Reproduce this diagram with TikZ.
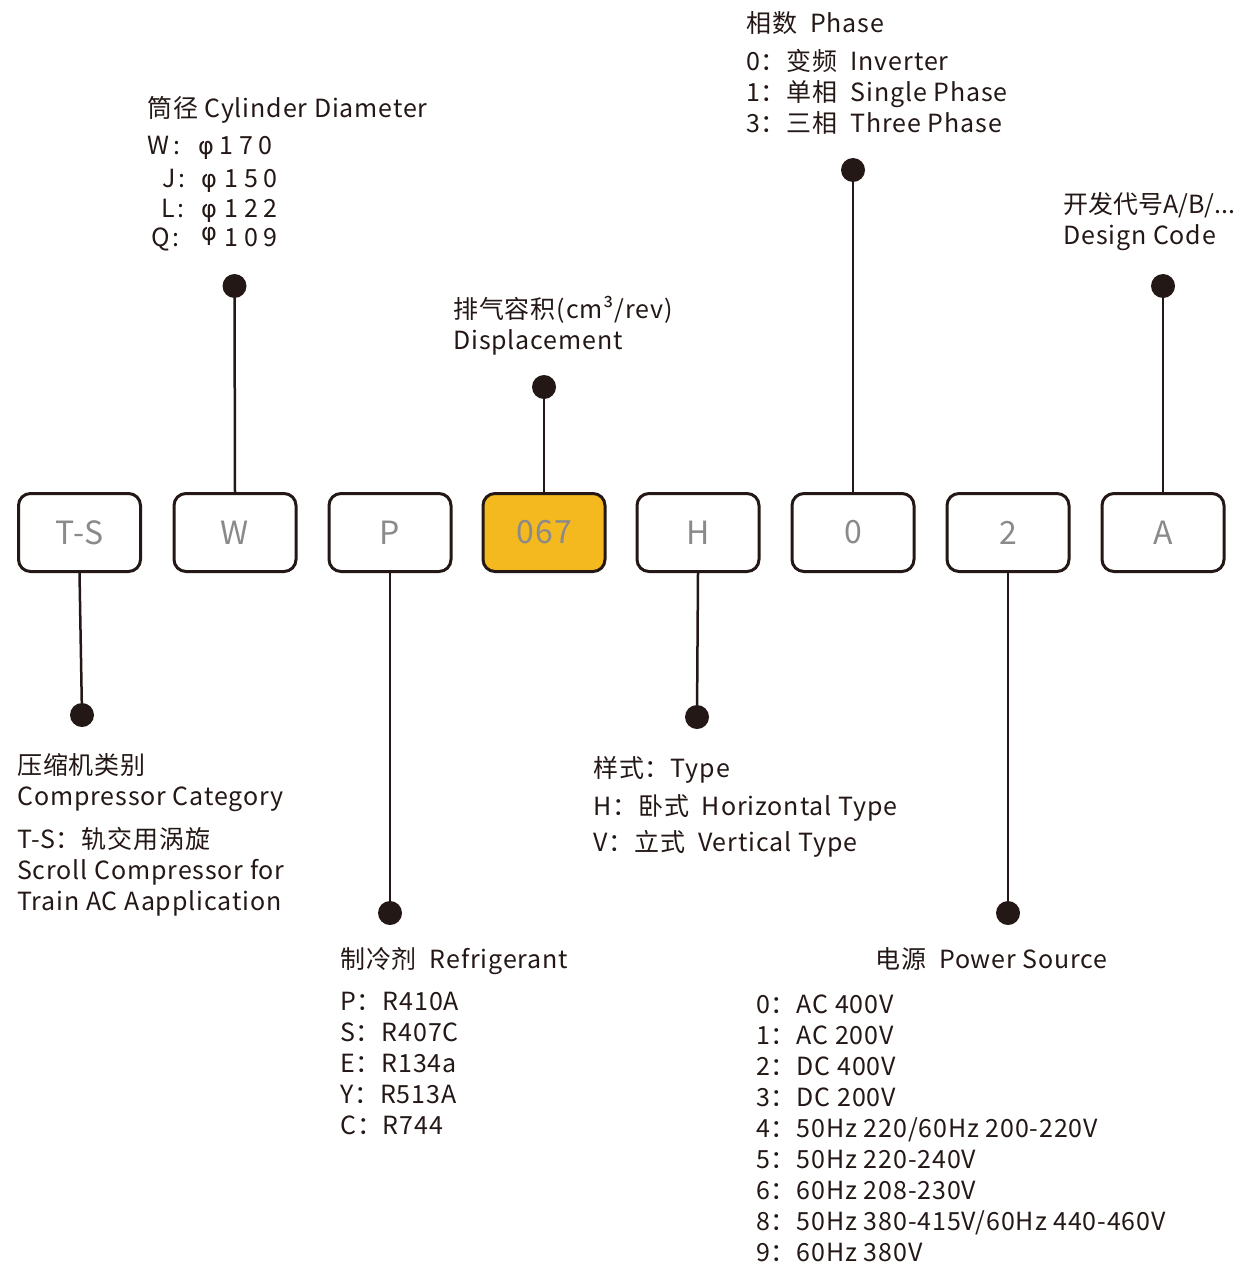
\documentclass[tikz,border=0pt]{standalone}
\usepackage{fontspec}
\setmainfont{Noto Sans CJK SC}[LetterSpace=3.5]
\newfontfamily\phifont{DejaVu Sans}
\definecolor{dark}{HTML}{231815}
\definecolor{boxgray}{HTML}{8A8A8A}
\definecolor{codeyellow}{HTML}{F3B91E}
\tikzset{
  codebox/.style={draw=dark, line width=3pt, rounded corners=12pt, minimum width=122pt, minimum height=78pt, inner sep=0pt, fill=white, text=boxgray, font=\fontsize{32}{36}\selectfont},
  dotn/.style={circle, fill=dark, minimum size=24pt, inner sep=0pt},
  conn/.style={draw=dark, line width=2.5pt},
  txt/.style={anchor=base west, inner sep=0pt, text=dark, font=\fontsize{25}{30}\selectfont},
  txtc/.style={txt, anchor=base, font=\fontsize{24}{30}\phifont},
}
\begin{document}
\begin{tikzpicture}[x=1pt,y=-1pt]
\useasboundingbox (0,0) rectangle (1241,1268);
% code boxes
\node[codebox] (ts) at (79.5,532.5) {T-S};
\node[codebox] (w) at (235,532.5) {W};
\node[codebox] (p) at (390,532.5) {P};
\node[codebox, fill=codeyellow] (d067) at (544,532.5) {067};
\node[codebox] (h) at (698,532.5) {H};
\node[codebox] (ph0) at (853,532.5) {0};
\node[codebox] (ps2) at (1008,532.5) {2};
\node[codebox] (a) at (1163,532.5) {A};
% dots
\node[dotn] (dts) at (82,715) {};
\node[dotn] (dw) at (234.5,286) {};
\node[dotn] (dp) at (390,913) {};
\node[dotn] (d67) at (544,387) {};
\node[dotn] (dh) at (697,717) {};
\node[dotn] (dph) at (853,170) {};
\node[dotn] (dps) at (1008,913) {};
\node[dotn] (da) at (1163,286) {};
% connectors
\draw[conn] (ts.south) -- (dts);
\draw[conn] (w.north) -- (dw);
\draw[conn] (p.south) -- (dp);
\draw[conn] (d067.north) -- (d67);
\draw[conn] (h.south) -- (dh);
\draw[conn] (ph0.north) -- (dph);
\draw[conn] (ps2.south) -- (dps);
\draw[conn] (a.north) -- (da);
% cylinder diameter
\node[txt] (cyl) at (147,118) {筒径 Cylinder Diameter};
\node[txt] (cw) at (147,155) {W\kern4pt:};
\node[txtc] (cwp) at (206,155) {φ};
\node[txt] (cwn) at (219,155) {1\kern6pt 7\kern6pt 0};
\node[txt] (cj) at (162,188) {J\kern3pt:};
\node[txtc] (cjp) at (209,188) {φ};
\node[txt] (cjn) at (224,188) {1\kern6pt 5\kern6pt 0};
\node[txt] (cl) at (161,217) {L\kern3pt:};
\node[txtc] (clp) at (209,217) {φ};
\node[txt] (cln) at (224,217) {1\kern6pt 2\kern6pt 2};
\node[txt] (cq) at (151,246) {Q\kern3pt:};
\node[txtc] (cqp) at (209,240) {φ};
\node[txt] (cqn) at (224,246) {1\kern6pt 0\kern6pt 9};
% phase
\node[txt] (ph1) at (746,33) {相数\ \ Phase};
\node[txt] (ph2) at (746,71) {0：变频\ \ Inverter};
\node[txt] (ph3) at (746,102) {1：单相\ \ Single Phase};
\node[txt] (ph4) at (746,133) {3：三相\ \ Three Phase};
% design code
\node[txt] (dc1) at (1063,214) {\addfontfeature{LetterSpace=0}开发代号A/B/...};
\node[txt] (dc2) at (1063,244) {Design Code};
% displacement
\node[txt] (ds1) at (453,318) {排气容积(cm³/rev)};
\node[txt] (ds2) at (453,349) {Displacement};
% compressor category
\node[txt] (cc1) at (17,774) {压缩机类别};
\node[txt] (cc2) at (17,805) {Compressor Category};
\node[txt] (cc3) at (17,848) {T-S：轨交用涡旋};
\node[txt] (cc4) at (17,879) {Scroll Compressor for};
\node[txt] (cc5) at (17,910) {Train AC Aapplication};
% type
\node[txt] (ty1) at (593,777) {样式：Type};
\node[txt] (ty2) at (593,815) {H：卧式\ \ Horizontal Type};
\node[txt] (ty3) at (593,851) {V：立式\ \ Vertical Type};
% refrigerant
\node[txt] (rf0) at (340,968) {制冷剂\ \ Refrigerant};
\node[txt] (rf1) at (340,1010) {P：R410A};
\node[txt] (rf2) at (340,1041) {S：R407C};
\node[txt] (rf3) at (340,1072) {E：R134a};
\node[txt] (rf4) at (340,1103) {Y：R513A};
\node[txt] (rf5) at (340,1134) {C：R744};
% power source
\node[txt] (pw0) at (875,968) {电源\ \ Power Source};
\node[txt] (pw1) at (756,1013) {0：AC 400V};
\node[txt] (pw2) at (756,1044) {1：AC 200V};
\node[txt] (pw3) at (756,1075) {2：DC 400V};
\node[txt] (pw4) at (756,1106) {3：DC 200V};
\node[txt] (pw5) at (756,1137) {4：50Hz 220/60Hz 200-220V};
\node[txt] (pw6) at (756,1168) {5：50Hz 220-240V};
\node[txt] (pw7) at (756,1199) {6：60Hz 208-230V};
\node[txt] (pw8) at (756,1230) {8：50Hz 380-415V/60Hz 440-460V};
\node[txt] (pw9) at (756,1261) {9：60Hz 380V};
\end{tikzpicture}
\end{document}
